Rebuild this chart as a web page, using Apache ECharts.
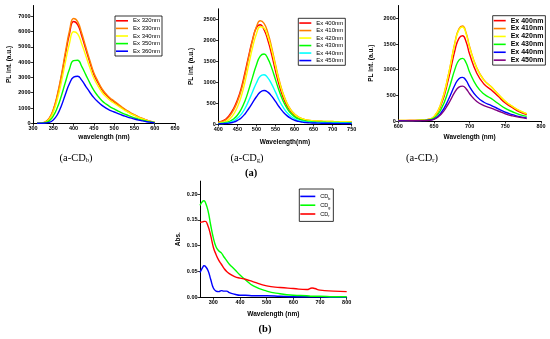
<!DOCTYPE html>
<html>
<head>
<meta charset="utf-8">
<script src="https://cdn.jsdelivr.net/npm/echarts@6/dist/echarts.min.js"></script>
<style>html,body{margin:0;padding:0;background:#fff}#c{width:550px;height:339px}</style>
</head>
<body>
<div id="c"></div>
<script>
// ---- Panel a-CDb ----
const x1 = [310,320,330,340,350,360,370,380,390,400,410,420,430,440,450,460,470,480,490,500,510,520,530,540,550,560,570,580,590,600];
const names1 = ['Ex 320nm','Ex 330nm','Ex 340nm','Ex 350nm','Ex 360nm'];
const a1_320 = [0,20,80,300,860,1800,3060,4520,5850,6650,6450,5720,4850,3990,3190,2660,2190,1860,1600,1400,1200,1000,830,665,530,400,300,200,120,50];
const a1_330 = [0,25,95,330,900,1870,3170,4680,6050,6850,6650,5900,5000,4120,3300,2750,2270,1930,1660,1460,1250,1050,870,700,560,420,315,210,130,55];
const a1_340 = [0,18,70,260,740,1570,2700,4020,5230,5980,5850,5200,4430,3650,2940,2450,2030,1730,1490,1310,1130,950,790,640,510,385,290,195,120,55];
const a1_350 = [0,10,40,160,480,1030,1800,2700,3550,4100,4120,3720,3180,2640,2150,1780,1480,1260,1080,940,800,670,560,450,360,275,205,140,85,40];
const a1_360 = [0,5,20,60,220,560,1150,1900,2600,3020,3080,2820,2420,2030,1680,1400,1170,990,850,740,630,525,435,350,280,210,155,105,65,30];
const colors1 = ['#ff0000','#ff8000','#ffff00','#00ff00','#0000ff'];
const x1Ticks = [300,350,400,450,500,550,600,650];
const y1Ticks = [0,1000,2000,3000,4000,5000,6000,7000];

// ---- Panel a-CDg ----
const x2 = [400,410,420,430,440,450,460,470,480,490,500,510,520,530,540,550,560,570,580,590,600,610,620,630,640,650,660,670,680,690,700,710,720,730,740,750];
const names2 = ['Ex 400nm','Ex 410nm','Ex 420nm','Ex 430nm','Ex 440nm','Ex 450nm'];
const a2_400 = [55,70,120,220,370,570,850,1230,1640,2020,2300,2370,2250,2000,1660,1270,920,640,440,300,210,150,115,90,75,65,60,58,55,52,50,50,48,46,45,45];
const a2_410 = [50,60,100,190,330,530,800,1170,1600,2000,2320,2465,2400,2180,1830,1420,1040,730,500,340,240,170,130,100,85,75,70,65,62,60,58,55,55,52,50,50];
const a2_420 = [25,35,60,120,230,400,650,1000,1420,1830,2150,2320,2290,2090,1770,1380,1010,710,490,330,230,165,125,100,85,75,70,65,62,60,58,56,55,53,52,50];
const a2_430 = [15,20,35,65,120,210,350,550,820,1120,1410,1620,1670,1560,1340,1060,780,550,380,255,175,120,90,70,58,50,45,42,40,38,36,35,34,33,32,30];
const a2_440 = [10,12,20,40,75,135,230,370,560,770,980,1140,1175,1100,950,760,560,400,275,185,125,88,65,50,42,36,32,30,28,27,26,25,24,23,22,20];
const a2_450 = [5,8,12,25,45,85,145,240,370,510,650,760,798,760,665,540,405,290,200,135,90,62,45,35,28,24,21,19,18,17,16,15,14,13,12,11];
const colors2 = ['#ff0000','#ff8000','#ffff00','#00ff00','#00ffff','#0000ff'];
const y2Ticks = [0,500,1000,1500,2000,2500];

// ---- Panel a-CDr ----
const x3 = [600,610,620,630,640,650,660,670,680,685,690,695,700,710,720,730,740,750,760,770,780];
const names3 = ['Ex 400nm ','Ex 410nm ','Ex 420nm ','Ex 430nm ','Ex 440nm ','Ex 450nm '];
const a3_400 = [8,8,10,13,25,75,315,800,1410,1610,1660,1545,1300,930,720,610,480,350,260,180,125];
const a3_410 = [9,9,11,15,28,83,350,890,1570,1795,1850,1720,1445,1035,800,670,520,380,280,195,137];
const a3_420 = [9,9,11,15,28,83,345,880,1555,1775,1830,1700,1430,1025,790,665,520,385,285,200,145];
const a3_430 = [6,6,7,10,18,55,230,585,1035,1185,1220,1135,950,680,525,440,340,245,180,125,90];
const a3_440 = [4,4,5,7,13,38,160,410,720,825,850,790,665,475,365,305,235,170,125,85,60];
const a3_450 = [3,3,4,6,10,31,130,330,580,660,680,630,530,380,300,250,195,140,100,70,50];
const colors3 = ['#ff0000','#ff8000','#ffff00','#00ff00','#0000ff','#800080'];
const y3Ticks = [0,500,1000,1500,2000];

// ---- Panel b (absorption) ----
const xb = [250,260,265,270,280,290,300,310,320,330,340,350,360,380,400,420,450,500,550,600,650,670,680,700,750,800];
const namesB = ['CDb','CDg','CDr'];
const absB = [0.048,0.058,0.061,0.060,0.052,0.035,0.018,0.012,0.011,0.013,0.012,0.012,0.009,0.006,0.004,0.004,0.003,0.003,0.002,0.001,0.001,0.001,0.001,0.001,0,0];
const absG = [0.178,0.186,0.187,0.184,0.168,0.140,0.115,0.098,0.090,0.086,0.078,0.071,0.064,0.054,0.043,0.034,0.022,0.012,0.007,0.004,0.003,0.002,0.002,0.002,0.001,0.001];
const absR = [0.145,0.146,0.147,0.147,0.138,0.120,0.097,0.083,0.072,0.064,0.056,0.050,0.046,0.040,0.037,0.035,0.030,0.022,0.019,0.017,0.015,0.018,0.017,0.014,0.012,0.011];
const colorsB = ['#0000ff','#00ff00','#ff0000'];
const xbTicks = [300,400,500,600,700,800];
const ybTicks = [0,0.05,0.10,0.15,0.20];

const FONT = 'Liberation Sans';
const SERIF = 'Liberation Serif';

function mk(xs, ys){ return xs.map((x,i)=>[x, ys[i]]); }

function xAx(gi, min, max, ticks, name, gap){
  return {
    type:'value', gridIndex:gi, min:min, max:max,
    name:name, nameLocation:'middle', nameGap:gap,
    nameTextStyle:{fontFamily:FONT, fontSize:6.5, fontWeight:'bold', color:'#000'},
    axisLine:{show:true, onZero:false, lineStyle:{color:'#000', width:1}},
    axisTick:{show:true, length:2.5, customValues:ticks, lineStyle:{color:'#000', width:0.8}},
    axisLabel:{fontFamily:FONT, fontSize:5.5, fontWeight:'bold', color:'#000', margin:2.5, customValues:ticks},
    splitLine:{show:false}
  };
}
function yAx(gi, max, ticks, name, gap, fmt){
  return {
    type:'value', gridIndex:gi, min:0, max:max,
    name:name, nameLocation:'middle', nameGap:gap,
    nameTextStyle:{fontFamily:FONT, fontSize:6.5, fontWeight:'bold', color:'#000'},
    axisLine:{show:true, onZero:false, lineStyle:{color:'#000', width:1}},
    axisTick:{show:true, length:2.5, customValues:ticks, lineStyle:{color:'#000', width:0.8}},
    axisLabel:{fontFamily:FONT, fontSize:5.5, fontWeight:'bold', color:'#000', margin:2.5, customValues:ticks,
      formatter: fmt || (v=>String(v))},
    splitLine:{show:false}
  };
}
function line(name, gi, xs, ys, color){
  return {
    type:'line', name:name, xAxisIndex:gi, yAxisIndex:gi, data:mk(xs, ys),
    showSymbol:false, symbol:'none', smooth:0.5,
    lineStyle:{color:color, width:1.4}, itemStyle:{color:color}, silent:true
  };
}
function leg(names, left, top, fs, lh, bold, extra){
  return Object.assign({
    data:names, left:left, top:top, orient:'vertical', icon:'rect',
    itemWidth:12, itemHeight:1.6, itemGap:0, padding:[1,2,1,1],
    borderColor:'#000', borderWidth:0.8, backgroundColor:'#fff', selectedMode:false,
    textStyle:{fontFamily:FONT, fontSize:fs, lineHeight:lh, fontWeight:bold?'bold':'normal', color:'#000'}
  }, extra||{});
}

const series = [];
[a1_320,a1_330,a1_340,a1_350,a1_360].forEach((d,i)=>series.push(line(names1[i],0,x1,d,colors1[i])));
[a2_400,a2_410,a2_420,a2_430,a2_440,a2_450].forEach((d,i)=>series.push(line(names2[i],1,x2,d,colors2[i])));
[a3_400,a3_410,a3_420,a3_430,a3_440,a3_450].forEach((d,i)=>series.push(line(names3[i],2,x3,d,colors3[i])));
[absB,absG,absR].forEach((d,i)=>series.push(line(namesB[i],3,xb,d,colorsB[i])));

const capRich = {
  m:{fontFamily:SERIF, fontSize:10.5, color:'#000'},
  s:{fontFamily:SERIF, fontSize:6.5, color:'#000', verticalAlign:'bottom', lineHeight:7}
};
function cap(x, y, sub){
  return {type:'text', x:x, y:y, silent:true,
    style:{text:'{m|(a-CD}{s|'+sub+'}{m|)}', rich:capRich, align:'center', verticalAlign:'middle'}};
}

const option = {
  backgroundColor:'#fff',
  animation:false,
  grid:[
    {left:33, top:5.5, width:142, height:117.8},
    {left:218.3, top:8.8, width:133.4, height:115.2},
    {left:398.3, top:5.5, width:142.7, height:115.5},
    {left:200, top:181.1, width:146.7, height:116.2}
  ],
  xAxis:[
    xAx(0, 300, 650, x1Ticks, 'wavelength (nm)', 10.5),
    xAx(1, 400, 750, [400,450,500,550,600,650,700,750], 'Wavelength(nm)', 14.5),
    xAx(2, 600, 800, [600,650,700,750,800], 'Wavelength (nm)', 12.5),
    xAx(3, 250, 800, xbTicks, 'Wavelength (nm)', 13.5)
  ],
  yAxis:[
    yAx(0, 7700, y1Ticks, 'PL int. (a.u.)', 20),
    yAx(1, 2750, y2Ticks, 'PL int. (a.u.)', 24),
    yAx(2, 2250, y3Ticks, 'PL int. (a.u.)', 24),
    yAx(3, 0.225, ybTicks, 'Abs.', 18, v=>v.toFixed(2))
  ],
  legend:[
    leg(names1, 115, 16, 6, 7.6, false),
    leg(names2, 298.3, 18.3, 6, 7.5, false),
    leg(names3, 492.7, 15.7, 7, 7.9, true, {formatter:n=>n.trim()}),
    leg(namesB, 299.3, 189, 5.5, 8.8, false, {
      itemWidth:15, padding:[3,3,3,1],
      formatter:n=>'{m|CD}{s|'+n.slice(2)+'}',
      textStyle:{fontFamily:FONT, fontSize:5.5, lineHeight:8.8, color:'#000',
        rich:{m:{fontFamily:FONT, fontSize:5.5, color:'#000'},
              s:{fontFamily:FONT, fontSize:3.8, color:'#000', verticalAlign:'bottom', lineHeight:5}}}
    })
  ],
  graphic:[
    cap(76, 158, 'b'),
    cap(247, 158, 'g'),
    cap(422, 158, 'r'),
    {type:'text', x:251, y:173, silent:true,
      style:{text:'(a)', fontFamily:SERIF, fontSize:10.5, fontWeight:'bold', fill:'#000', align:'center', verticalAlign:'middle'}},
    {type:'text', x:265, y:329, silent:true,
      style:{text:'(b)', fontFamily:SERIF, fontSize:10.5, fontWeight:'bold', fill:'#000', align:'center', verticalAlign:'middle'}}
  ],
  series:series
};

const chart = echarts.init(document.getElementById('c'), null, {renderer:'canvas', width:550, height:339});
chart.setOption(option);
</script>
</body>
</html>
